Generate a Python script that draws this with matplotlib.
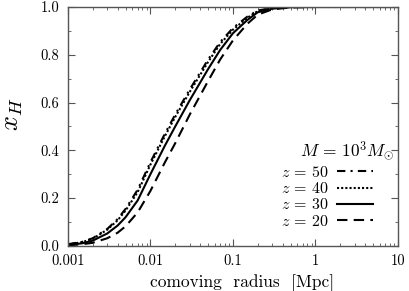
import matplotlib
matplotlib.use("Agg")
import matplotlib.pyplot as plt
from matplotlib.ticker import MultipleLocator, FixedLocator, FixedFormatter

plt.rcParams['font.family'] = 'serif'
plt.rcParams['font.serif'] = ['cmr10']
plt.rcParams['mathtext.fontset'] = 'cm'
plt.rcParams['axes.formatter.use_mathtext'] = True

# comoving radius [Mpc]
radius = [0.001, 0.0015, 0.002, 0.003, 0.004, 0.005, 0.007, 0.01, 0.015, 0.02,
          0.03, 0.05, 0.07, 0.1, 0.15, 0.2, 0.3, 0.5, 1.0, 10.0]

# neutral fraction x_H for each redshift
xh_z50 = [0.007, 0.017, 0.032, 0.071, 0.112, 0.155, 0.235, 0.35, 0.47, 0.55,
          0.655, 0.78, 0.853, 0.912, 0.96, 0.985, 0.996, 1.0, 1.0, 1.0]
xh_z40 = [0.006, 0.016, 0.030, 0.068, 0.107, 0.148, 0.225, 0.34, 0.46, 0.54,
          0.645, 0.77, 0.845, 0.905, 0.955, 0.983, 0.995, 1.0, 1.0, 1.0]
xh_z30 = [0.004, 0.011, 0.022, 0.052, 0.085, 0.12, 0.19, 0.30, 0.42, 0.50,
          0.61, 0.74, 0.82, 0.89, 0.946, 0.978, 0.993, 0.999, 1.0, 1.0]
xh_z20 = [0.002, 0.007, 0.013, 0.032, 0.055, 0.082, 0.14, 0.23, 0.35, 0.43,
          0.55, 0.69, 0.78, 0.86, 0.93, 0.968, 0.99, 0.998, 1.0, 1.0]

xticks = [0.001, 0.01, 0.1, 1, 10]
xtick_labels = ['0.001', '0.01', '0.1', '1', '10']

fig = plt.figure(figsize=(4.09, 2.91), dpi=100)
ax = fig.add_axes([0.166, 0.155, 0.807, 0.821])

ax.plot(radius, xh_z50, color='black', lw=1.5, linestyle=(0, (4, 2.5, 1, 2.5)), label=r'$z\,=\,50$')
ax.plot(radius, xh_z40, color='black', lw=1.5, linestyle=(0, (1, 1)), label=r'$z\,=\,40$')
ax.plot(radius, xh_z30, color='black', lw=1.5, linestyle='-', label=r'$z\,=\,30$')
ax.plot(radius, xh_z20, color='black', lw=1.5, linestyle=(0, (5, 3)), label=r'$z\,=\,20$')

ax.set_xscale('log')
ax.set_xlim(0.001, 10)
ax.set_ylim(0, 1)
ax.xaxis.set_major_locator(FixedLocator(xticks))
ax.xaxis.set_major_formatter(FixedFormatter(xtick_labels))
ax.yaxis.set_major_locator(MultipleLocator(0.2))
ax.yaxis.set_minor_locator(MultipleLocator(0.1))
ax.yaxis.set_major_formatter(matplotlib.ticker.FormatStrFormatter('%.1f'))

ax.tick_params(which='both', direction='in', top=True, right=True, labelsize=10.5, color='#555555')
ax.tick_params(which='major', length=5, pad=6)
ax.tick_params(which='minor', length=2.5)
for sp in ax.spines.values():
    sp.set_color('#555555')
    sp.set_linewidth(1.0)

ax.set_xlabel('comoving  radius  [Mpc]', fontsize=12.5)
ax.xaxis.set_label_coords(0.527, -0.118)
ax.set_ylabel('$x_H$', fontsize=19)
ax.yaxis.set_label_coords(-0.13, 0.55)

leg = ax.legend(loc='lower right', bbox_to_anchor=(0.945, 0.045), frameon=False,
                markerfirst=False, fontsize=11.5, handlelength=2.3, handletextpad=0.5,
                labelspacing=0.08, borderaxespad=0)
ax.text(0.99, 0.395, r'$M\,=\,10^3 M_{\odot}$', transform=ax.transAxes,
        ha='right', va='center', fontsize=12.5)

fig.savefig('out.png', dpi=100)
